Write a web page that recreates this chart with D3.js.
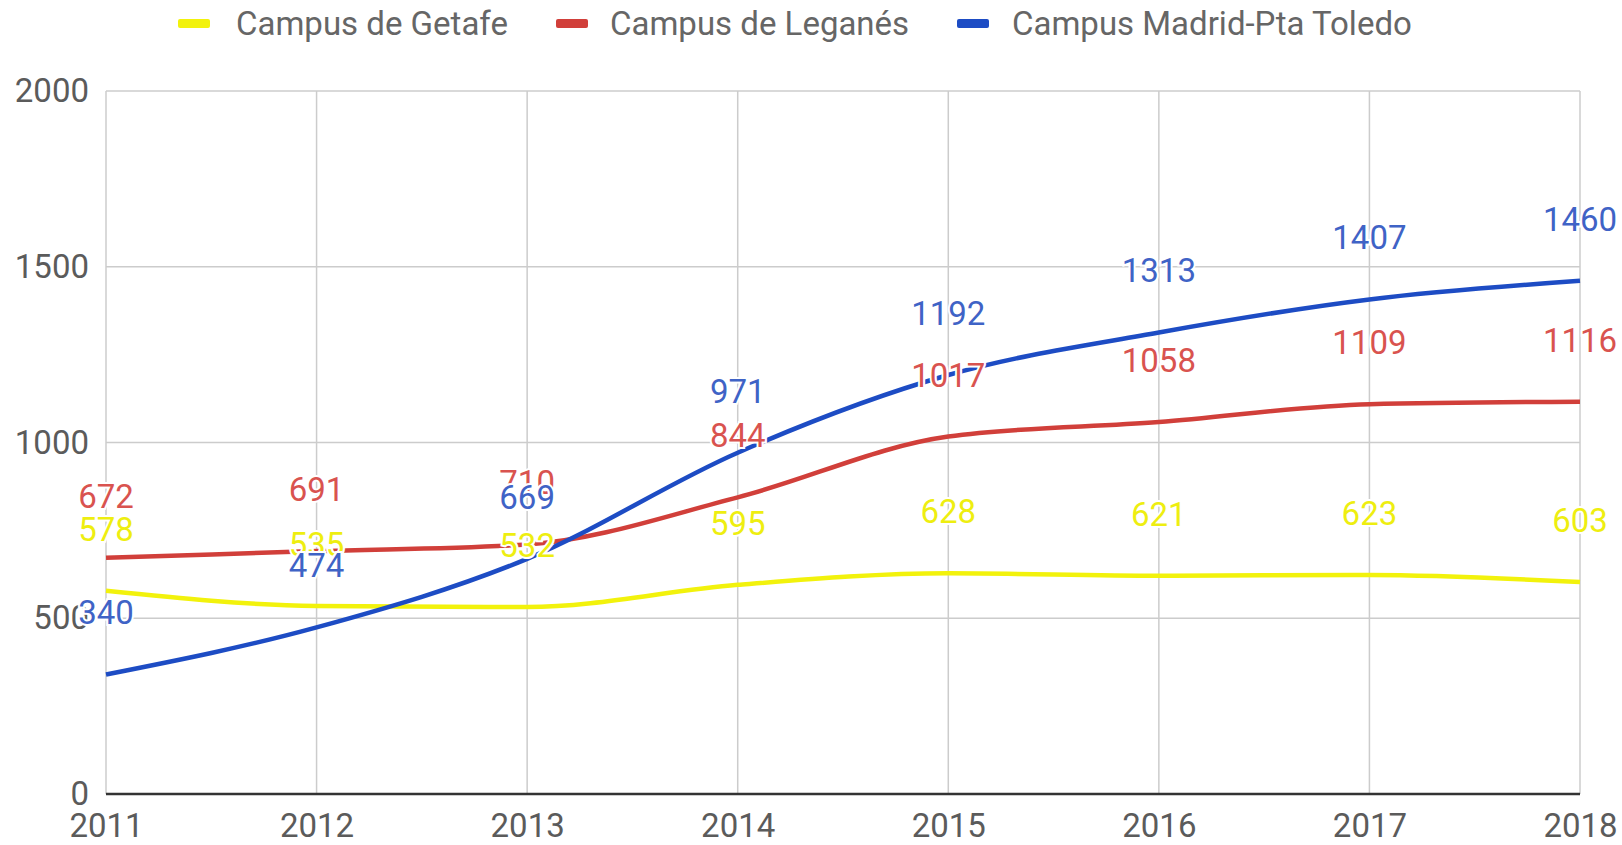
<!DOCTYPE html>
<html>
<head>
<meta charset="utf-8">
<script src="https://cdn.jsdelivr.net/npm/d3@7"></script>
<style>
  html, body { margin: 0; padding: 0; background: #fff; }
  svg { display: block; font-family: Roboto, "Noto Sans", sans-serif; }
</style>
</head>
<body>
<svg id="chart" width="1622" height="845"></svg>
<script>
// ---- data ----
const years = ["2011", "2012", "2013", "2014", "2015", "2016", "2017", "2018"];
const getafe = [578, 535, 532, 595, 628, 621, 623, 603];
const leganes = [672, 691, 710, 844, 1017, 1058, 1109, 1116];
const madrid = [340, 474, 669, 971, 1192, 1313, 1407, 1460];
const seriesNames = ["Campus de Getafe", "Campus de Leganés", "Campus Madrid-Pta Toledo"];
const yTicks = [0, 500, 1000, 1500, 2000];

const lineColors = ["#f2f20c", "#d13f3a", "#1d4cc4"];
const labelColors = ["#eeee10", "#d9534f", "#3f63c6"];
const allSeries = [getafe, leganes, madrid];

// ---- layout ----
const svg = d3.select("#chart");
const plotLeft = 106, plotRight = 1580, plotTop = 91, plotBottom = 794;

const x = d3.scalePoint().domain(years).range([plotLeft, plotRight]);
const y = d3.scaleLinear().domain([0, 2000]).range([plotBottom, plotTop]);

// gridlines
const grid = svg.append("g");
grid.selectAll("line.h").data(yTicks).join("line")
  .attr("class", "h")
  .attr("x1", plotLeft).attr("x2", plotRight)
  .attr("y1", d => y(d)).attr("y2", d => y(d))
  .attr("stroke", "#cccccc").attr("stroke-width", 1.5);
grid.selectAll("line.v").data(years).join("line")
  .attr("class", "v")
  .attr("x1", d => x(d)).attr("x2", d => x(d))
  .attr("y1", plotTop).attr("y2", plotBottom)
  .attr("stroke", "#cccccc").attr("stroke-width", 1.5);

// y axis labels
const yAxis = d3.axisLeft(y).tickValues(yTicks).tickFormat(d3.format("d")).tickSize(0).tickPadding(17);
const yg = svg.append("g").attr("transform", `translate(${plotLeft},0)`).call(yAxis);
yg.select(".domain").remove();
yg.selectAll("text").attr("font-size", 33).attr("fill", "#5b5b5b")
  .attr("font-family", "Roboto, sans-serif");

// x axis labels
const xAxis = d3.axisBottom(x).tickSize(0).tickPadding(20);
const xg = svg.append("g").attr("transform", `translate(0,${plotBottom})`).call(xAxis);
xg.select(".domain").remove();
xg.selectAll("text").attr("font-size", 33).attr("fill", "#5b5b5b")
  .attr("font-family", "Roboto, sans-serif");

// baseline
svg.append("line").attr("x1", plotLeft).attr("x2", plotRight)
  .attr("y1", y(0)).attr("y2", y(0))
  .attr("stroke", "#333").attr("stroke-width", 2.5);

// lines
const line = d3.line()
  .x((d, i) => x(years[i]))
  .y(d => y(d))
  .curve(d3.curveMonotoneX);

allSeries.forEach((s, k) => {
  svg.append("path").datum(s)
    .attr("d", line)
    .attr("fill", "none")
    .attr("stroke", lineColors[k])
    .attr("stroke-width", 4.5)
    .attr("stroke-linejoin", "round");
});

// data labels
allSeries.forEach((s, k) => {
  svg.append("g").selectAll("text").data(s).join("text")
    .attr("x", (d, i) => x(years[i]))
    .attr("y", d => y(d) - 50)
    .attr("text-anchor", "middle")
    .attr("font-size", 33)
    .attr("fill", labelColors[k])
    .attr("stroke", "#fff")
    .attr("stroke-width", 4)
    .attr("paint-order", "stroke")
    .text(d => d);
});

// legend
const legendItems = [
  { name: seriesNames[0], mx: 178, tx: 236 },
  { name: seriesNames[1], mx: 556, tx: 610 },
  { name: seriesNames[2], mx: 957, tx: 1012 }
];
const lg = svg.append("g");
legendItems.forEach((it, k) => {
  lg.append("rect").attr("x", it.mx).attr("y", 19).attr("width", 32).attr("height", 9)
    .attr("rx", 2).attr("fill", lineColors[k]);
  lg.append("text").attr("x", it.tx).attr("y", 23).attr("dy", "0.35em")
    .attr("font-size", 33).attr("fill", "#666")
    .text(it.name);
});
</script>
</body>
</html>
